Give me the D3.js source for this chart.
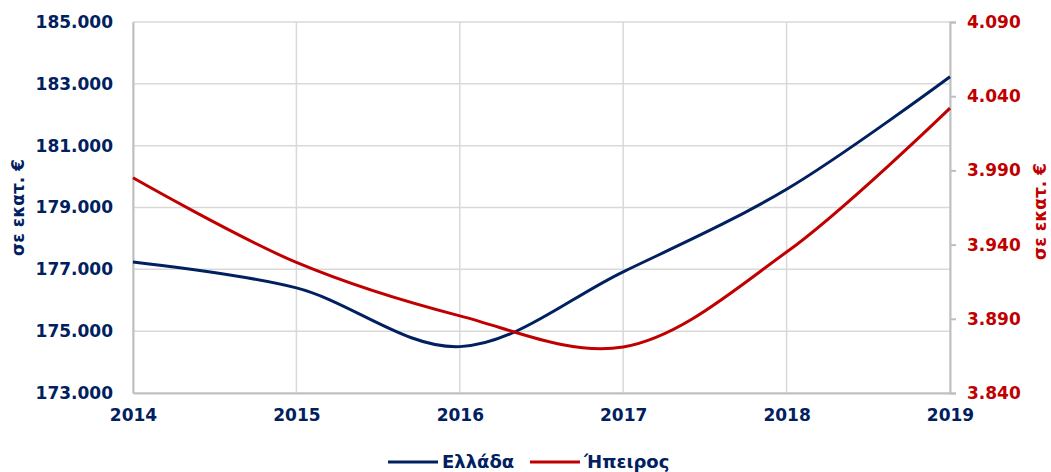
<!DOCTYPE html>
<html lang="el">
<head>
    <meta charset="UTF-8">
    <script src="https://d3js.org/d3.v7.min.js"></script>
    <title>Ελλάδα - Ήπειρος</title>
    <style>
        body { margin: 0; background: white; }
        text { font-family: "DejaVu Sans", Verdana, sans-serif; font-weight: bold; }
    </style>
</head>
<body>
    <div id="chart"></div>
    <script>
        // data
        const years = [2014, 2015, 2016, 2017, 2018, 2019];
        const greece = [177240, 176400, 174500, 176920, 179590, 183230];
        const epirus = [3985, 3928, 3892, 3871, 3935, 4032];
        const leftTicks = [173000, 175000, 177000, 179000, 181000, 183000, 185000];
        const rightTicks = [3840, 3890, 3940, 3990, 4040, 4090];
        const seriesNames = ["Ελλάδα", "Ήπειρος"];
        const axisTitle = "σε εκατ. €";

        const width = 1051, height = 472;
        const margin = { top: 22, right: 101, bottom: 79, left: 133 };
        const navy = "#002060", red = "#C00000";

        const svg = d3.select("#chart").append("svg")
            .attr("width", width)
            .attr("height", height);

        const x = d3.scaleLinear()
            .domain(d3.extent(years))
            .range([margin.left, width - margin.right]);
        const yL = d3.scaleLinear()
            .domain([173000, 185000])
            .range([height - margin.bottom, margin.top]);
        const yR = d3.scaleLinear()
            .domain([3840, 4090])
            .range([height - margin.bottom, margin.top]);

        const fmt = v => d3.format(",")(v).replace(/,/g, ".");

        // gridlines
        svg.append("g").selectAll("line")
            .data(leftTicks)
            .join("line")
            .attr("x1", margin.left).attr("x2", width - margin.right)
            .attr("y1", d => yL(d)).attr("y2", d => yL(d))
            .attr("stroke", "#D9D9D9").attr("stroke-width", 1.5);
        svg.append("g").selectAll("line")
            .data(years)
            .join("line")
            .attr("x1", d => x(d)).attr("x2", d => x(d))
            .attr("y1", margin.top).attr("y2", height - margin.bottom)
            .attr("stroke", "#D9D9D9").attr("stroke-width", 1.5);

        // left axis
        const gL = svg.append("g")
            .attr("transform", `translate(${margin.left},0)`)
            .call(d3.axisLeft(yL).tickValues(leftTicks).tickFormat(fmt).tickSize(0).tickPadding(20));
        gL.select(".domain").attr("stroke", "#BFBFBF").attr("stroke-width", 2);
        gL.selectAll("text").attr("fill", navy).style("font-size", "17px");

        // right axis
        const gR = svg.append("g")
            .attr("transform", `translate(${width - margin.right},0)`)
            .call(d3.axisRight(yR).tickValues(rightTicks).tickFormat(fmt).tickSize(6).tickPadding(11));
        gR.select(".domain").attr("stroke", "#BFBFBF").attr("stroke-width", 2);
        gR.selectAll(".tick line").attr("stroke", "#BFBFBF").attr("stroke-width", 2);
        gR.selectAll("text").attr("fill", red).style("font-size", "17px");

        // bottom axis
        const gB = svg.append("g")
            .attr("transform", `translate(0,${height - margin.bottom})`)
            .call(d3.axisBottom(x).tickValues(years).tickFormat(d3.format("d")).tickSize(0).tickPadding(16));
        gB.select(".domain").attr("stroke", "#BFBFBF").attr("stroke-width", 2);
        gB.selectAll("text").attr("fill", navy).style("font-size", "17px");

        // axis titles
        svg.append("text")
            .attr("transform", `translate(24,${(margin.top + height - margin.bottom) / 2}) rotate(-90)`)
            .attr("text-anchor", "middle")
            .attr("fill", navy)
            .style("font-size", "17px")
            .text(axisTitle);
        svg.append("text")
            .attr("transform", `translate(1046,${(margin.top + height - margin.bottom) / 2 + 4}) rotate(-90)`)
            .attr("text-anchor", "middle")
            .attr("fill", red)
            .style("font-size", "17px")
            .text(axisTitle);

        // lines
        const lineL = d3.line()
            .x((d, i) => x(years[i]))
            .y(d => yL(d))
            .curve(d3.curveCatmullRom.alpha(0.5));
        const lineR = d3.line()
            .x((d, i) => x(years[i]))
            .y(d => yR(d))
            .curve(d3.curveCatmullRom.alpha(0.5));

        svg.append("path")
            .datum(greece)
            .attr("d", lineL)
            .attr("fill", "none")
            .attr("stroke", navy)
            .attr("stroke-width", 3);
        svg.append("path")
            .datum(epirus)
            .attr("d", lineR)
            .attr("fill", "none")
            .attr("stroke", red)
            .attr("stroke-width", 3);

        // legend
        const legendItems = [
            { name: seriesNames[0], color: navy, x: 388 },
            { name: seriesNames[1], color: red, x: 530 }
        ];
        const lg = svg.append("g").selectAll("g")
            .data(legendItems)
            .join("g")
            .attr("transform", d => `translate(${d.x},462)`);
        lg.append("line")
            .attr("x1", 0).attr("x2", 50)
            .attr("stroke", d => d.color)
            .attr("stroke-width", 3);
        lg.append("text")
            .attr("x", 54)
            .attr("dy", "0.35em")
            .attr("fill", navy)
            .style("font-size", "18px")
            .text(d => d.name);
    </script>
</body>
</html>
